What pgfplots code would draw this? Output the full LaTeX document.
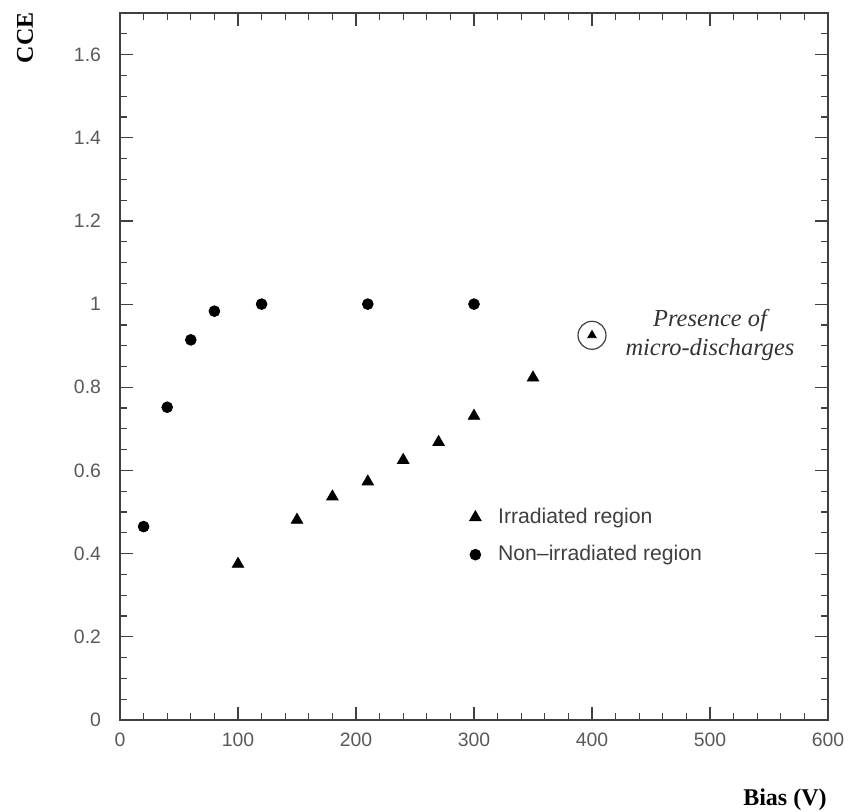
\documentclass[border=0pt]{standalone}
\usepackage{fontspec}
\setmainfont{Liberation Sans}
\newfontfamily\labelfont{Liberation Serif}
\usepackage{pgfplots}
\pgfplotsset{compat=1.18}

\begin{document}
\begin{tikzpicture}[x=1pt,y=1pt]
\begin{axis}[
  at={(0,0)}, anchor=south west,
  scale only axis,
  width=354pt, height=353.5pt,
  xmin=0, xmax=600, ymin=0, ymax=1.7,
  xtick={0,100,200,300,400,500,600},
  ytick={0,0.2,0.4,0.6,0.8,1,1.2,1.4,1.6},
  minor xtick={0,20,...,600},
  minor ytick={0,0.05,...,1.7},
  tick align=inside,
  major tick length=6.5pt, minor tick length=3.5pt,
  axis line style={line width=0.8pt, black!75},
  every tick/.style={black!75, line width=0.6pt},
  /pgf/number format/assume math mode=true,
  tick label style={font=\fontsize{9.7}{11}\selectfont, text=black!65},
  yticklabel style={xshift=-6pt},
  xticklabel style={yshift=-3pt},
  legend image code/.code={\draw[#1] plot coordinates {(0pt,0pt)};},
  legend style={draw=none, fill=none, font=\fontsize{10.6}{12}\selectfont,
    text=black!75, at={(axis cs:296,0.52)}, anchor=north west,
    row sep=5.5pt, inner sep=0pt,
    /tikz/every odd column/.append style={column sep=6.5pt}},
  legend cell align=left,
]
% irradiated region of the sensor
\addplot[only marks, mark=triangle*, mark size=3.3pt, black]
  coordinates {(100,0.375) (150,0.481) (180,0.537) (210,0.573)
               (240,0.625) (270,0.668) (300,0.731) (350,0.823)};
\addlegendentry{Irradiated region}
% non-irradiated region
\addplot[only marks, mark=*, mark size=2.7pt, black]
  coordinates {(20,0.465) (40,0.752) (60,0.914) (80,0.983)
               (120,1.0) (210,1.0) (300,1.0)};
\addlegendentry{Non--irradiated region}
% point affected by micro-discharges
\addplot[only marks, mark=triangle*, mark size=2.4pt, black, forget plot]
  coordinates {(400,0.925)};
\draw[black!75, line width=0.6pt] (axis cs:400,0.925) circle[radius=7pt];
\node[font=\labelfont\itshape\fontsize{12.2}{14.5}\selectfont, align=center,
  text=black!80] at (axis cs:500,0.926) {Presence of\\micro-discharges};
\end{axis}
\node[rotate=90, font=\labelfont\bfseries\fontsize{12}{14}\selectfont]
  at (-47.5,341) {CCE};
\node[anchor=east, font=\labelfont\bfseries\fontsize{12}{14}\selectfont, inner sep=0pt]
  at (353.5,-40) {Bias (V)};
\pgfresetboundingbox
\path[use as bounding box] (-60,-46) rectangle (368.5,360);
\end{tikzpicture}
\end{document}
